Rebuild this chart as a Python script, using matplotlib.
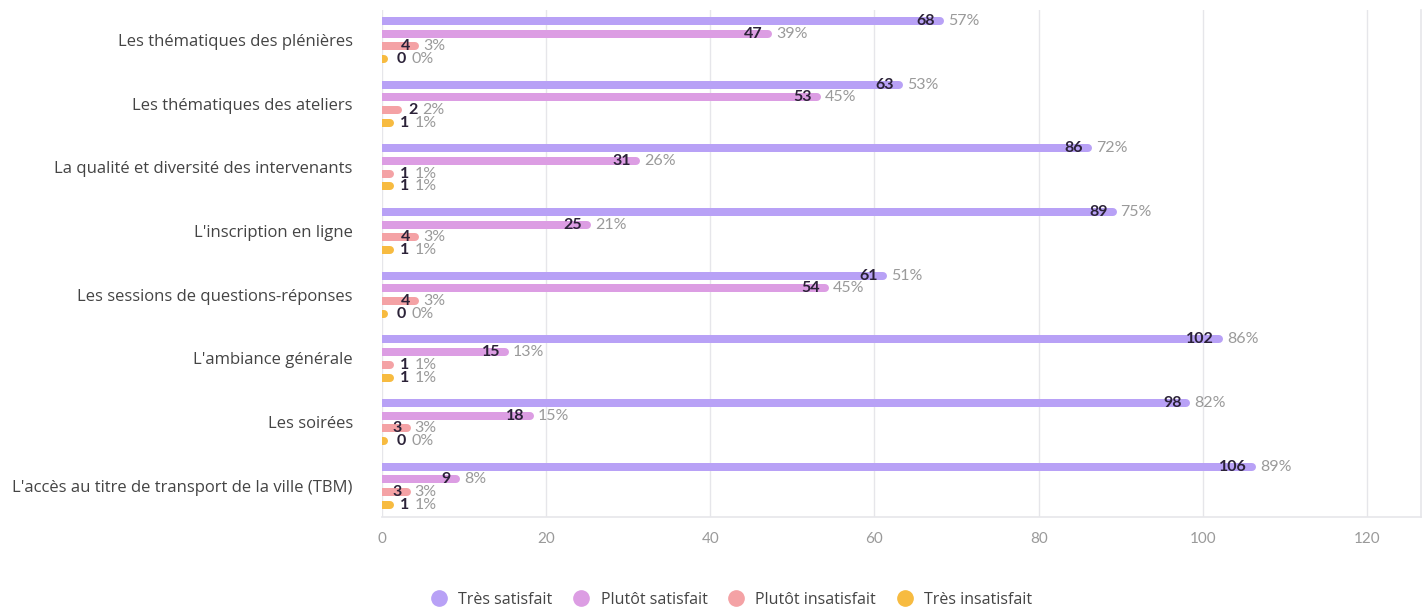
import matplotlib
matplotlib.use('Agg')
import matplotlib.pyplot as plt
from matplotlib.lines import Line2D
import numpy as np

categories = [
    'Les thématiques des plénières',
    'Les thématiques des ateliers',
    'La qualité et diversité des intervenants',
    "L'inscription en ligne",
    'Les sessions de questions-réponses',
    "L'ambiance générale",
    'Les soirées',
    "L'accès au titre de transport de la ville (TBM)",
]
series_names = ['Très satisfait', 'Plutôt satisfait', 'Plutôt insatisfait', 'Très insatisfait']
tres_satisfait = [68, 63, 86, 89, 61, 102, 98, 106]
plutot_satisfait = [47, 53, 31, 25, 54, 15, 18, 9]
plutot_insatisfait = [4, 2, 1, 4, 4, 1, 3, 3]
tres_insatisfait = [0, 1, 1, 1, 0, 1, 0, 1]
pct_tres_satisfait = [57, 53, 72, 75, 51, 86, 82, 89]
pct_plutot_satisfait = [39, 45, 26, 21, 45, 13, 15, 8]
pct_plutot_insatisfait = [3, 2, 1, 3, 3, 1, 3, 3]
pct_tres_insatisfait = [0, 1, 1, 1, 0, 1, 0, 1]
x_ticks = [0, 20, 40, 60, 80, 100, 120]

values = [tres_satisfait, plutot_satisfait, plutot_insatisfait, tres_insatisfait]
pcts = [pct_tres_satisfait, pct_plutot_satisfait, pct_plutot_insatisfait, pct_tres_insatisfait]
colors = ['#b8a1f6', '#dc9de3', '#f4a2a5', '#f7bb40']

plt.rcParams['font.family'] = ['Open Sans', 'DejaVu Sans']
PX = 0.72  # points per pixel at dpi 100

fig = plt.figure(figsize=(14.27, 6.11), dpi=100)
ax = fig.add_axes([382 / 1427, 1 - 517 / 611, (1421 - 382) / 1427, (517 - 10) / 611])

step = 0.2
for j, (vals, pc, col) in enumerate(zip(values, pcts, colors)):
    ys = np.arange(len(categories)) + (j - 1.5) * step
    # small minimum length so that zero values still show a round dot
    ax.hlines(ys, 0, np.maximum(vals, 0.3), colors=col, linewidth=8 * PX,
              capstyle='round', zorder=3)
    for y, v, p in zip(ys, vals, pc):
        if v >= 3:
            ax.annotate(str(v), (v, y), xytext=(-5 * PX, 0), textcoords='offset points',
                        ha='right', va='center', fontsize=11.5, fontweight='bold',
                        color='#2b2238', family='Lato', zorder=4)
            ax.annotate(f'{p}%', (v, y), xytext=(8 * PX, 0), textcoords='offset points',
                        ha='left', va='center', fontsize=11.5, color='#9a9a9a',
                        family='Lato', zorder=4)
        else:
            off = 15 if v == 0 else 10
            ax.annotate(str(v), (v, y), xytext=(off * PX, 0), textcoords='offset points',
                        ha='left', va='center', fontsize=11.5, fontweight='bold',
                        color='#2b2238', family='Lato', zorder=4)
            ax.annotate(f'{p}%', (v, y), xytext=((off + 14) * PX, 0), textcoords='offset points',
                        ha='left', va='center', fontsize=11.5, color='#9a9a9a',
                        family='Lato', zorder=4)

ax.set_xlim(0, (1421 - 382) / 8.208)
ax.set_ylim(7.49, -0.47)
ax.set_yticks(np.arange(len(categories)))
ax.set_yticklabels(categories, fontsize=12, color='#444444')
ax.set_xticks(x_ticks)
ax.set_xticklabels([str(t) for t in x_ticks], fontsize=11, color='#9a9a9a', family='Lato')
ax.tick_params(axis='y', length=0, pad=21)
ax.tick_params(axis='x', length=0, pad=11)
ax.grid(axis='x', color='#e6e6ea', linewidth=1, zorder=0)
ax.set_axisbelow(True)
for s in ['top', 'left']:
    ax.spines[s].set_visible(False)
for s in ['right', 'bottom']:
    ax.spines[s].set_color('#e6e6ea')
    ax.spines[s].set_linewidth(1.2)

handles = [Line2D([], [], marker='o', linestyle='', markersize=11, color=c) for c in colors]
fig.legend(handles, series_names, loc='center', bbox_to_anchor=(0.51, 0.018), ncol=4,
           frameon=False, fontsize=11.5, labelcolor='#444444', handletextpad=0.2,
           columnspacing=0.8)

fig.savefig('out.png', dpi=100)
